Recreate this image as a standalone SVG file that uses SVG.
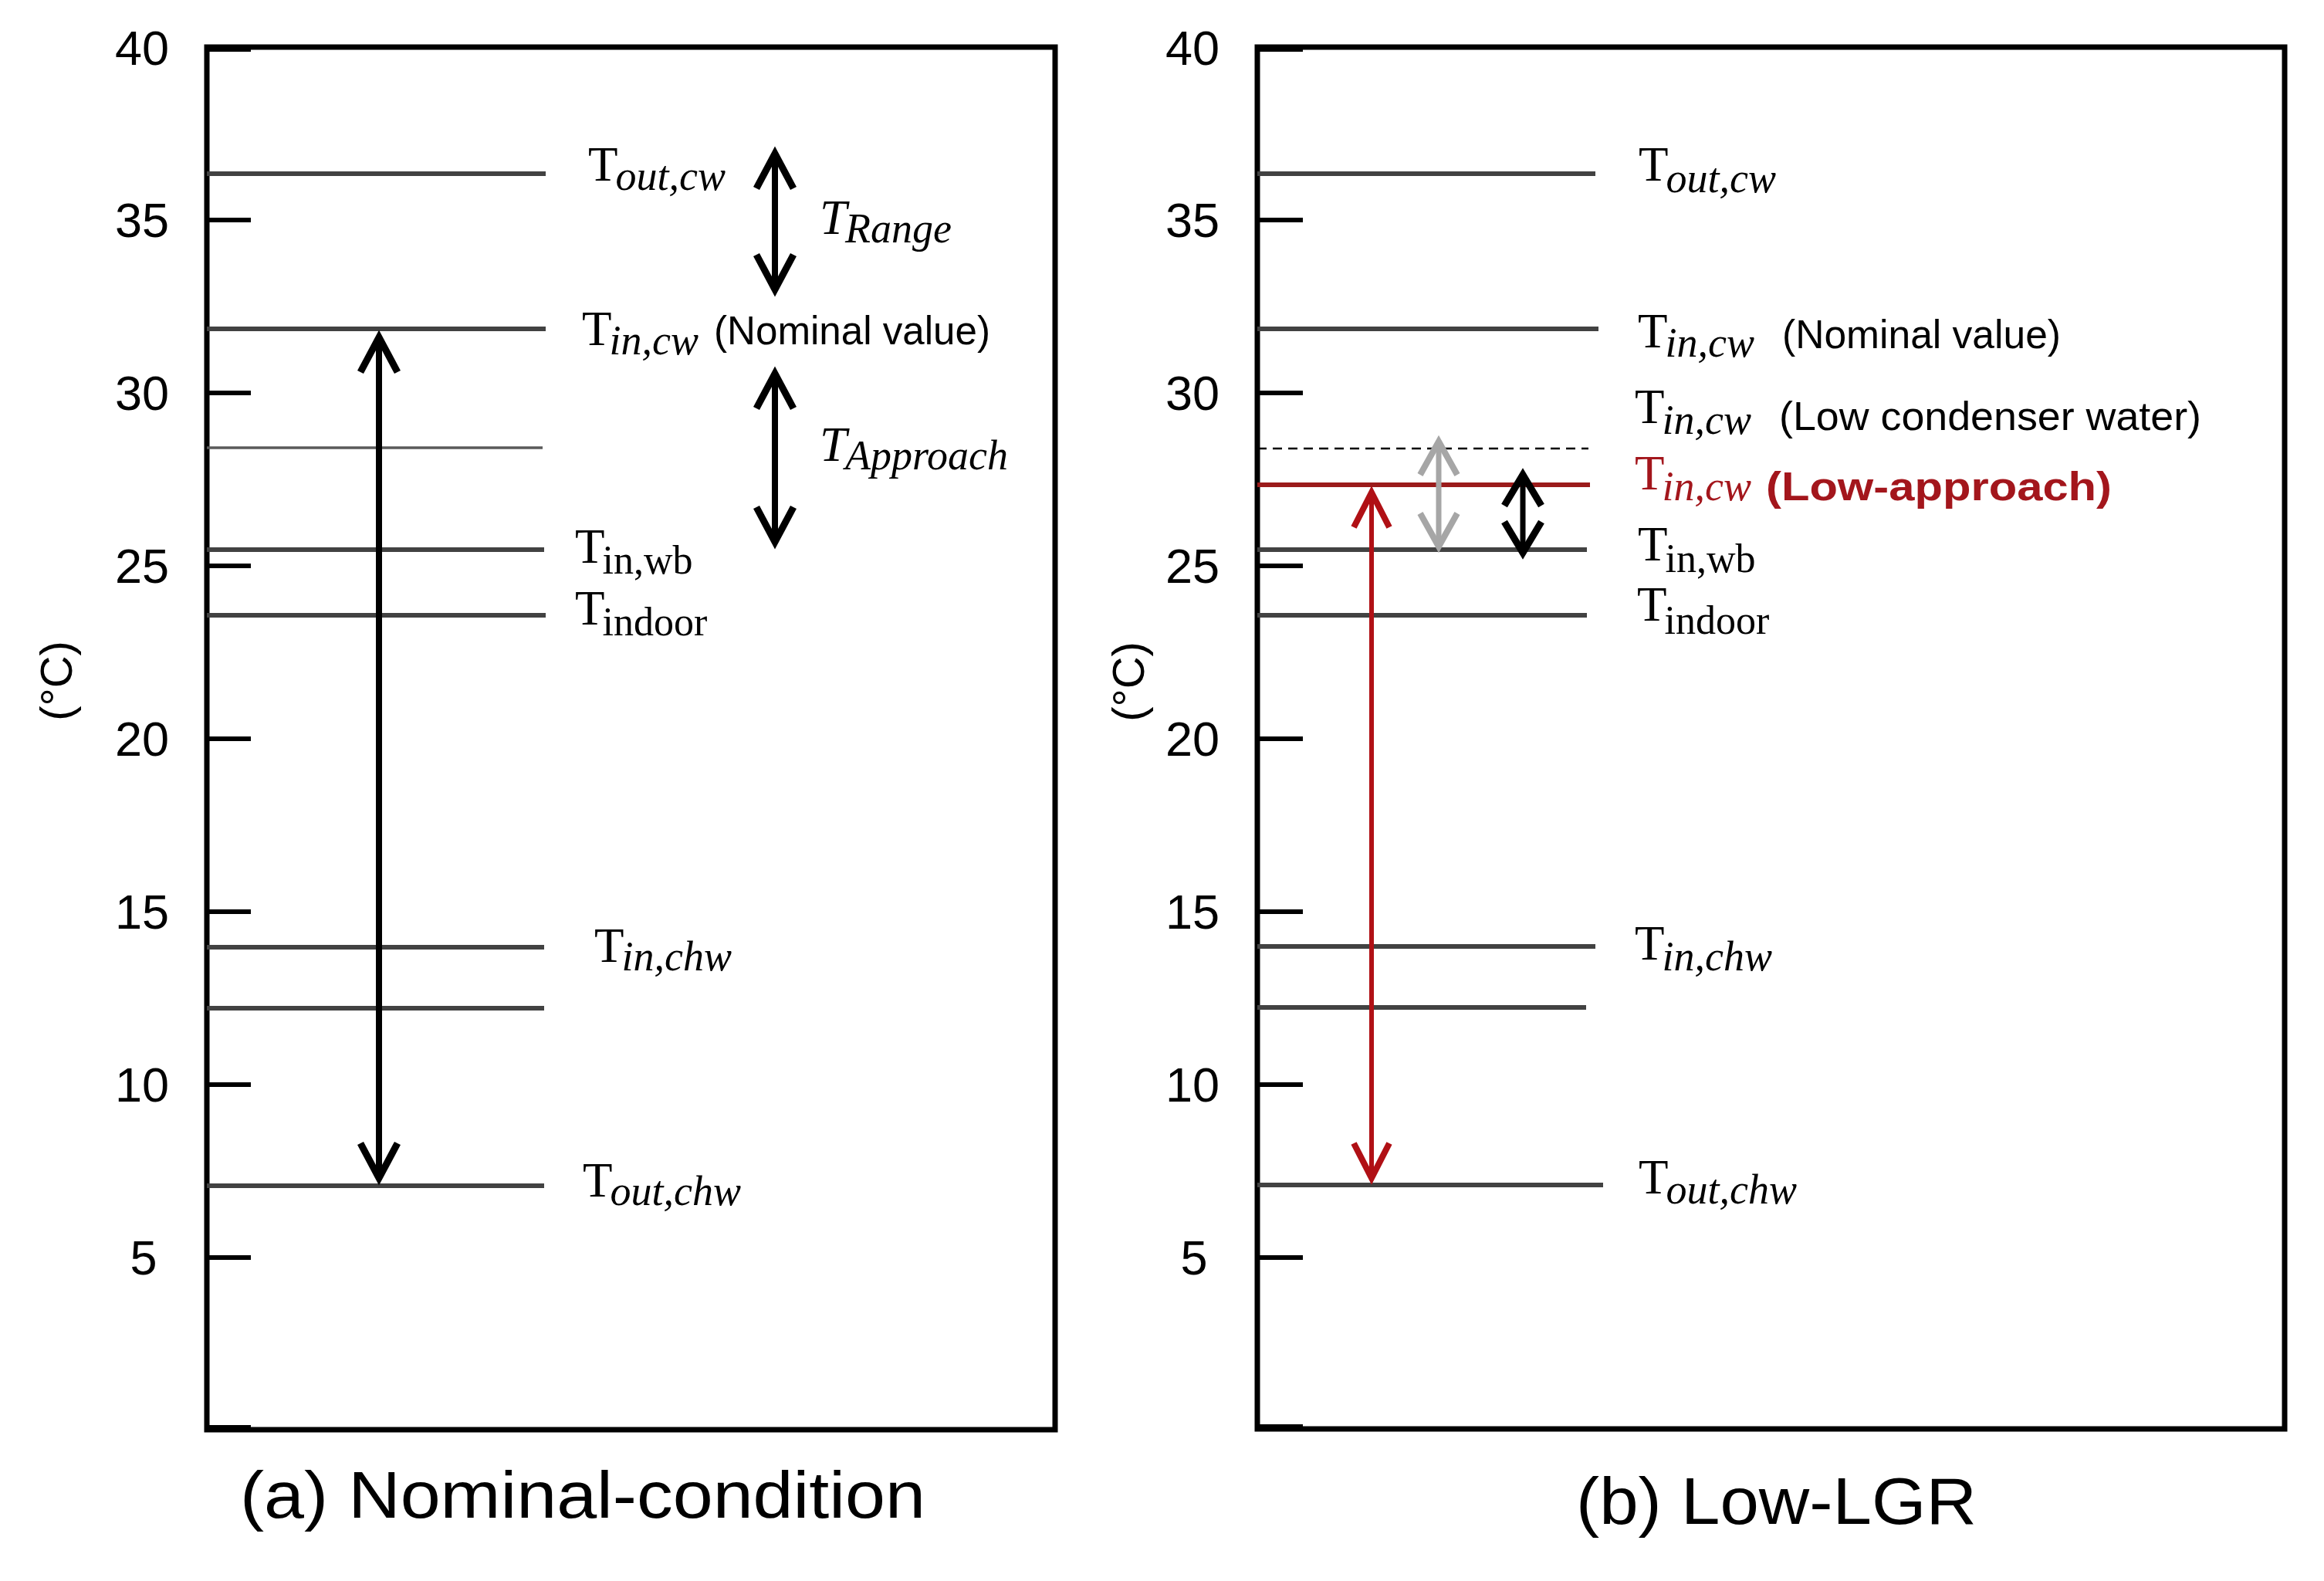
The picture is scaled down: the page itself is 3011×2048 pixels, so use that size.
<svg xmlns="http://www.w3.org/2000/svg" width="3011" height="2048" viewBox="0 0 3011 2048">
<style>
.ax{fill:none;stroke:#000;stroke-width:7}
.tick{stroke:#000;stroke-width:6}
.lvl{stroke:#424242;stroke-width:6}
.thin{stroke:#5a5a5a;stroke-width:3.5}
.num{font-family:"Liberation Sans",Arial,sans-serif;font-size:63px;text-anchor:middle;fill:#000}
.unit{font-family:"Liberation Sans",Arial,sans-serif;font-size:58px;text-anchor:middle;dominant-baseline:central;fill:#000}
.sym{font-family:"Liberation Serif","Times New Roman",serif;font-size:63px;fill:#000}
.sub{font-size:54px;font-style:italic}
.subr{font-size:52px;font-style:normal}
.note{font-family:"Liberation Sans",Arial,sans-serif;font-size:52px;fill:#000}
.cap{font-family:"Liberation Sans",Arial,sans-serif;font-size:85px;fill:#000}
.red{fill:#A3161C}
.conn{fill:none}
</style>
<defs>
<marker id="hb" markerUnits="userSpaceOnUse" orient="auto-start-reverse" overflow="visible" markerWidth="10" markerHeight="10" refX="0" refY="0">
<path d="M -45 -24 L 0 0 L -45 24" fill="none" stroke="#000" stroke-width="9"/>
</marker>
<marker id="hr" markerUnits="userSpaceOnUse" orient="auto-start-reverse" overflow="visible" markerWidth="10" markerHeight="10" refX="0" refY="0">
<path d="M -45 -23 L 0 0 L -45 23" fill="none" stroke="#B01015" stroke-width="8"/>
</marker>
<marker id="hg" markerUnits="userSpaceOnUse" orient="auto-start-reverse" overflow="visible" markerWidth="10" markerHeight="10" refX="0" refY="0">
<path d="M -43 -24 L 0 0 L -43 24" fill="none" stroke="#A6A6A6" stroke-width="8"/>
</marker>
<marker id="hs" markerUnits="userSpaceOnUse" orient="auto-start-reverse" overflow="visible" markerWidth="10" markerHeight="10" refX="0" refY="0">
<path d="M -40 -24 L 0 0 L -40 24" fill="none" stroke="#000" stroke-width="9"/>
</marker>
</defs>
<rect width="3011" height="2048" fill="#fff"/>

<!-- Panel (a) -->
<g id="panel-a-axes">
<rect class="ax" x="268" y="61" width="1099" height="1791"/>
<line class="tick" x1="268" y1="64" x2="325" y2="64"/>
<line class="tick" x1="268" y1="285" x2="325" y2="285"/>
<line class="tick" x1="268" y1="509" x2="325" y2="509"/>
<line class="tick" x1="268" y1="733" x2="325" y2="733"/>
<line class="tick" x1="268" y1="957" x2="325" y2="957"/>
<line class="tick" x1="268" y1="1181" x2="325" y2="1181"/>
<line class="tick" x1="268" y1="1405" x2="325" y2="1405"/>
<line class="tick" x1="268" y1="1629" x2="325" y2="1629"/>
<line class="tick" x1="268" y1="1849" x2="325" y2="1849"/>
<text class="num" x="184" y="84">40</text>
<text class="num" x="184" y="307">35</text>
<text class="num" x="184" y="531">30</text>
<text class="num" x="184" y="755">25</text>
<text class="num" x="184" y="979">20</text>
<text class="num" x="184" y="1203">15</text>
<text class="num" x="184" y="1427">10</text>
<text class="num" x="186" y="1651">5</text>
<text class="unit" transform="translate(72,882) rotate(-90)">(°C)</text>
</g>

<g id="a-tout-cw">
<line class="lvl" x1="268" y1="225" x2="707" y2="225"/>
<text class="sym" x="762" y="234">T<tspan class="sub" dx="-3" dy="12">out,cw</tspan></text>
</g>
<g id="a-tin-cw">
<line class="lvl" x1="268" y1="426" x2="707" y2="426"/>
<text class="sym" x="754" y="447">T<tspan class="sub" dx="-3" dy="12">in,cw</tspan></text>
<text class="note" x="925" y="446" textLength="358" lengthAdjust="spacingAndGlyphs">(Nominal value)</text>
</g>
<g id="a-level-28">
<line class="thin" x1="268" y1="580" x2="703" y2="580"/>
</g>
<g id="a-tin-wb">
<line class="lvl" x1="268" y1="712" x2="705" y2="712"/>
<text class="sym" x="745" y="729">T<tspan class="subr" dx="-3" dy="14">in,wb</tspan></text>
</g>
<g id="a-tindoor">
<line class="lvl" x1="268" y1="797" x2="707" y2="797"/>
<text class="sym" x="745" y="809">T<tspan class="subr" dx="-3" dy="14" font-size="55">indoor</tspan></text>
</g>
<g id="a-tin-chw">
<line class="lvl" x1="268" y1="1227" x2="705" y2="1227"/>
<text class="sym" x="770" y="1246">T<tspan class="sub" dx="-3" dy="11">in,chw</tspan></text>
</g>
<g id="a-level-12">
<line class="lvl" x1="268" y1="1306" x2="705" y2="1306"/>
</g>
<g id="a-tout-chw">
<line class="lvl" x1="268" y1="1536" x2="705" y2="1536"/>
<text class="sym" x="755" y="1550">T<tspan class="sub" dx="-3" dy="11">out,chw</tspan></text>
</g>
<g id="a-trange">
<text class="sym" x="1062" y="303" font-style="italic">T<tspan class="sub" dx="-2" dy="11">Range</tspan></text>
</g>
<g id="a-tapproach">
<text class="sym" x="1062" y="597" font-style="italic">T<tspan class="sub" dx="-2" dy="11">Approach</tspan></text>
</g>
<text class="cap" x="311" y="1966" textLength="888" lengthAdjust="spacingAndGlyphs">(a) Nominal-condition</text>

<!-- Panel (b) -->
<g id="panel-b-axes">
<rect class="ax" x="1629" y="61" width="1331" height="1790"/>
<line class="tick" x1="1629" y1="64" x2="1688" y2="64"/>
<line class="tick" x1="1629" y1="285" x2="1688" y2="285"/>
<line class="tick" x1="1629" y1="509" x2="1688" y2="509"/>
<line class="tick" x1="1629" y1="733" x2="1688" y2="733"/>
<line class="tick" x1="1629" y1="957" x2="1688" y2="957"/>
<line class="tick" x1="1629" y1="1181" x2="1688" y2="1181"/>
<line class="tick" x1="1629" y1="1405" x2="1688" y2="1405"/>
<line class="tick" x1="1629" y1="1629" x2="1688" y2="1629"/>
<line class="tick" x1="1629" y1="1848" x2="1688" y2="1848"/>
<text class="num" x="1545" y="84">40</text>
<text class="num" x="1545" y="307">35</text>
<text class="num" x="1545" y="531">30</text>
<text class="num" x="1545" y="755">25</text>
<text class="num" x="1545" y="979">20</text>
<text class="num" x="1545" y="1203">15</text>
<text class="num" x="1545" y="1427">10</text>
<text class="num" x="1547" y="1651">5</text>
<text class="unit" transform="translate(1461,883) rotate(-90)">(°C)</text>
</g>

<g id="b-tout-cw">
<line class="lvl" x1="1629" y1="225" x2="2067" y2="225"/>
<text class="sym" x="2123" y="234">T<tspan class="sub" dx="-3" dy="15">out,cw</tspan></text>
</g>
<g id="b-tin-cw-nominal">
<line class="lvl" x1="1629" y1="426" x2="2071" y2="426"/>
<text class="sym" x="2122" y="450">T<tspan class="sub" dx="-3" dy="12">in,cw</tspan></text>
<text class="note" x="2309" y="451" textLength="361" lengthAdjust="spacingAndGlyphs">(Nominal value)</text>
</g>
<g id="b-tin-cw-low-cw">
<line x1="1629" y1="581" x2="2058" y2="581" stroke="#000" stroke-width="2.5" stroke-dasharray="12 8"/>
<text class="sym" x="2118" y="548">T<tspan class="sub" dx="-3" dy="14">in,cw</tspan></text>
<text class="note" x="2305" y="557" font-size="50" textLength="547" lengthAdjust="spacingAndGlyphs">(Low condenser water)</text>
</g>
<g id="b-tin-cw-low-approach">
<line x1="1629" y1="628" x2="2060" y2="628" stroke="#9B1B1B" stroke-width="6"/>
<text class="sym red" x="2118" y="634">T<tspan class="sub" dx="-3" dy="14">in,cw</tspan></text>
<text class="note red" x="2288" y="648" font-size="58" font-weight="bold" textLength="448" lengthAdjust="spacingAndGlyphs">(Low-approach)</text>
</g>
<g id="b-tin-wb">
<line class="lvl" x1="1629" y1="712" x2="2056" y2="712"/>
<text class="sym" x="2122" y="726">T<tspan class="subr" dx="-3" dy="15">in,wb</tspan></text>
</g>
<g id="b-tindoor">
<line class="lvl" x1="1629" y1="797" x2="2056" y2="797"/>
<text class="sym" x="2121" y="804">T<tspan class="subr" dx="-3" dy="17" font-size="55">indoor</tspan></text>
</g>
<g id="b-tin-chw">
<line class="lvl" x1="1629" y1="1226" x2="2067" y2="1226"/>
<text class="sym" x="2118" y="1243">T<tspan class="sub" dx="-3" dy="14">in,chw</tspan></text>
</g>
<g id="b-level-12">
<line class="lvl" x1="1629" y1="1305" x2="2055" y2="1305"/>
</g>
<g id="b-tout-chw">
<line class="lvl" x1="1629" y1="1535" x2="2077" y2="1535"/>
<text class="sym" x="2123" y="1546">T<tspan class="sub" dx="-3" dy="13">out,chw</tspan></text>
</g>
<text class="cap" x="2042" y="1974" textLength="519" lengthAdjust="spacingAndGlyphs">(b) Low-LGR</text>

<!-- Connectors -->
<g id="connectors" class="conn">
<line x1="491" y1="437" x2="491" y2="1526" stroke="#000" stroke-width="8" marker-start="url(#hb)" marker-end="url(#hb)"/>
<line x1="1004" y1="199" x2="1004" y2="375" stroke="#000" stroke-width="8" marker-start="url(#hb)" marker-end="url(#hb)"/>
<line x1="1004" y1="484" x2="1004" y2="702" stroke="#000" stroke-width="8" marker-start="url(#hb)" marker-end="url(#hb)"/>
<line x1="1777" y1="638" x2="1777" y2="1526" stroke="#B01015" stroke-width="6" marker-start="url(#hr)" marker-end="url(#hr)"/>
<line x1="1864" y1="572" x2="1864" y2="708" stroke="#A6A6A6" stroke-width="7" marker-start="url(#hg)" marker-end="url(#hg)"/>
<line x1="1973" y1="615" x2="1973" y2="716" stroke="#000" stroke-width="7" marker-start="url(#hs)" marker-end="url(#hs)"/>
</g>
</svg>
